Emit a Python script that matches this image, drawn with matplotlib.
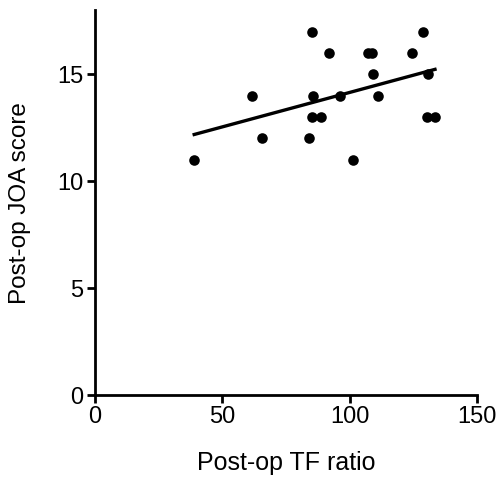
import numpy as np
import matplotlib
matplotlib.use("Agg")
import matplotlib.pyplot as plt

plt.rcParams['font.family'] = ['Liberation Sans', 'DejaVu Sans']

tf_ratio = [39, 85.3, 91.9, 61.5, 85.7, 96.2, 85.1, 88.6, 65.7, 84.1,
            107.3, 108.6, 128.6, 124.5, 109, 130.6, 111, 130.2, 133.5, 101.2]
joa_score = [11, 17, 16, 14, 14, 14, 13, 13, 12, 12,
             16, 16, 17, 16, 15, 15, 14, 13, 13, 11]

x = np.array(tf_ratio)
y = np.array(joa_score)

fig = plt.figure(figsize=(4.99, 4.82), dpi=100)
ax = fig.add_axes([0.190, 0.180, 0.766, 0.799])

ax.scatter(x, y, s=58, color='black', zorder=3, linewidths=0)
slope, intercept = np.polyfit(x, y, 1)
xs = np.array([x.min(), x.max()])
ax.plot(xs, slope * xs + intercept, color='black', lw=2.4, zorder=2)

ax.set_xlim(0, 150)
ax.set_ylim(0, 18)
ax.set_xticks([0, 50, 100, 150])
ax.set_yticks([0, 5, 10, 15])
for s in ['top', 'right']:
    ax.spines[s].set_visible(False)
for s in ['left', 'bottom']:
    ax.spines[s].set_linewidth(2)
ax.tick_params(width=2, length=6, labelsize=17, direction='out', pad=2)
ax.set_xlabel('Post-op TF ratio', fontsize=18, labelpad=16)
ax.set_ylabel('Post-op JOA score', fontsize=17.5, labelpad=19)

fig.savefig('out.png', dpi=100)
